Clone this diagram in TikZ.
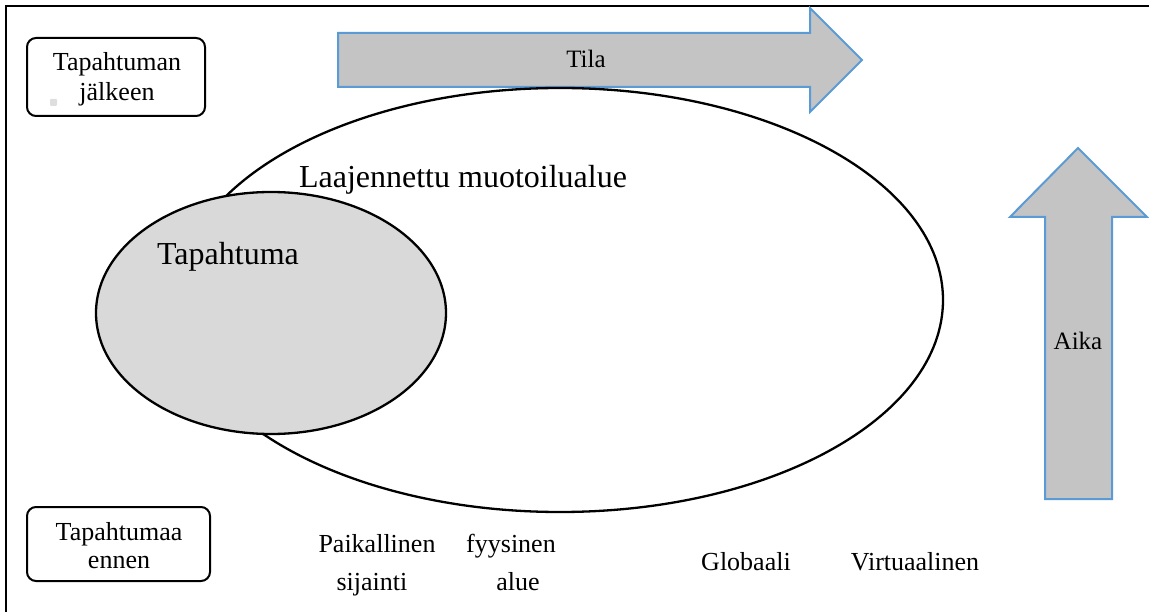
\documentclass[tikz,border=0pt]{standalone}
\usepackage{fontspec}
\setmainfont{Liberation Serif}
\definecolor{arrowblue}{HTML}{5B9BD5}
\definecolor{arrowfill}{HTML}{C4C4C4}
\definecolor{eventfill}{HTML}{D9D9D9}
\definecolor{dotgrey}{HTML}{DEDEDE}
\tikzset{
  bigtxt/.style={anchor=base, inner sep=0pt, font=\fontsize{32}{38}\selectfont},
  midtxt/.style={anchor=base, inner sep=0pt, font=\fontsize{25}{30}\selectfont},
  smalltxt/.style={anchor=base, inner sep=0pt, font=\fontsize{26}{30}\selectfont},
  timebox/.style={draw=black, line width=2pt, rounded corners=9pt},
  bigarrow/.style={draw=arrowblue, fill=arrowfill, line width=2pt, line join=miter},
  outline/.style={draw=black, line width=2.3pt}
}
\begin{document}
\begin{tikzpicture}[x=1pt, y=-1pt]
\useasboundingbox (0,0) rectangle (1149,612);
% frame (top and left only)
\draw[line width=2pt] (1149,6) -- (6,6) -- (6,612);
% time boxes
\draw[timebox] (27,38) rectangle (205,116);
\node[smalltxt] (after1) at (117,71) {Tapahtuman};
\node[smalltxt] (after2) at (117,101) {jälkeen};
\fill[dotgrey, rounded corners=1pt] (50,99) rectangle (57,106);
\draw[timebox] (27,507) rectangle (210,581);
\node[smalltxt] (before1) at (119,540) {Tapahtumaa};
\node[smalltxt] (before2) at (119,568) {ennen};
% Tila arrow
\draw[bigarrow] (338,33) -- (810,33) -- (810,8) -- (862,60) -- (810,112) -- (810,87) -- (338,87) -- cycle;
\node[midtxt] (tila) at (586,68) {Tila};
% Aika arrow
\draw[bigarrow] (1045,499) -- (1045,217) -- (1010,217) -- (1078,148) -- (1147,217) -- (1112,217) -- (1112,499) -- cycle;
\node[midtxt] (aika) at (1078,350) {Aika};
% ellipses
\draw[outline, fill=white] (560,300) ellipse [x radius=383, y radius=212];
\draw[outline, fill=eventfill] (271,313) ellipse [x radius=175, y radius=121];
\node[bigtxt] (laaj) at (463,188) {Laajennettu muotoilualue};
\node[bigtxt] (tap) at (228,265) {Tapahtuma};
% bottom labels
\node[smalltxt] (paik1) at (377,552) {Paikallinen};
\node[smalltxt] (paik2) at (372,590) {sijainti};
\node[smalltxt] (fyys1) at (511,552) {fyysinen};
\node[smalltxt] (fyys2) at (518,590) {alue};
\node[smalltxt] (glob) at (746,570) {Globaali};
\node[smalltxt] (virt) at (915,570) {Virtuaalinen};
\end{tikzpicture}
\end{document}
